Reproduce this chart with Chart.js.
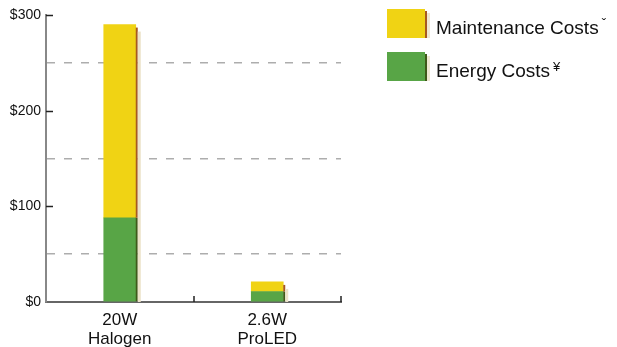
<!DOCTYPE html>
<html>
<head>
<meta charset="utf-8">
<script src="https://cdn.jsdelivr.net/npm/chart.js@4.4.0/dist/chart.umd.min.js"></script>
<style>
  body { margin: 0; background: #fff; font-family: "Liberation Sans", Arial, sans-serif; }
  #wrap { position: relative; width: 617px; height: 347px; }
  #legend { position: absolute; left: 387px; top: 9px; }
  .item { position: relative; height: 29px; margin-bottom: 14px; }
  .box { position: absolute; left: 0; top: 0; width: 38px; height: 29px; }
  .edge { position: absolute; left: 38px; top: 2px; width: 2px; height: 27px; }
  .shade { position: absolute; left: 40px; top: 4px; width: 3px; height: 25px; background: #efe8d2; }
  .text { position: absolute; left: 49px; top: 0px; font-size: 19px; line-height: 29px; color: #111; white-space: nowrap; }
  .text sup { font-size: 13px; vertical-align: 6px; margin-left: 3px; }
</style>
</head>
<body>
<div id="wrap">
  <canvas id="chart" width="617" height="347"></canvas>
  <div id="legend"></div>
</div>
<script>
const categories = [['20W', 'Halogen'], ['2.6W', 'ProLED']];
const energyCosts = [88, 11];
const maintenanceCosts = [202, 10];
const yTickValues = [0, 50, 100, 150, 200, 250, 300];

const legendItems = [
  { name: 'Maintenance Costs', mark: 'ˇ', color: '#f0d314', edge: '#a65a20' },
  { name: 'Energy Costs', mark: '¥', color: '#58a546', edge: '#3f5a19' }
];

Chart.defaults.font.family = '"Liberation Sans", Arial, sans-serif';
Chart.defaults.color = '#111';

// dark right edge + pale drop shadow on each bar
const sideShade = {
  id: 'sideShade',
  afterDatasetsDraw(chart) {
    const ctx = chart.ctx;
    const last = chart.data.datasets.length - 1;
    const zero = chart.scales.y.getPixelForValue(0);
    chart.data.datasets.forEach((ds, i) => {
      chart.getDatasetMeta(i).data.forEach(bar => {
        const { x, y, base, width } = bar.getProps(['x', 'y', 'base', 'width'], true);
        const right = x + width / 2;
        const top = i === last ? y + 3 : y;
        ctx.fillStyle = ds.edgeColor;
        ctx.fillRect(right, top, 2, base - top);
        if (i === last) {
          ctx.fillStyle = '#ebe2c8';
          ctx.fillRect(right + 2, y + 7, 3, zero - y - 7);
        }
      });
    });
  }
};

// small tick marks pointing into the plot
const innerTicks = {
  id: 'innerTicks',
  afterDraw(chart) {
    const ctx = chart.ctx;
    const { x: xs, y: ys } = chart.scales;
    ctx.save();
    ctx.strokeStyle = '#222';
    ctx.lineWidth = 1.5;
    ctx.beginPath();
    ys.ticks.forEach(t => {
      if (t.value > 0 && t.value % 100 === 0) {
        const py = Math.round(ys.getPixelForValue(t.value)) + 0.5;
        ctx.moveTo(xs.left, py);
        ctx.lineTo(xs.left + 7, py);
      }
    });
    for (let i = 1; i <= categories.length; i++) {
      const px = Math.round(xs.getPixelForValue(i - 0.5));
      ctx.moveTo(px, xs.top);
      ctx.lineTo(px, xs.top - 6);
    }
    ctx.stroke();
    ctx.restore();
  }
};

new Chart(document.getElementById('chart').getContext('2d'), {
  type: 'bar',
  data: {
    labels: categories,
    datasets: [
      {
        label: 'Energy Costs',
        data: energyCosts,
        backgroundColor: legendItems[1].color,
        edgeColor: legendItems[1].edge,
        barThickness: 32
      }, {
        label: 'Maintenance Costs',
        data: maintenanceCosts,
        backgroundColor: legendItems[0].color,
        edgeColor: legendItems[0].edge,
        barThickness: 32
      }
    ]
  },
  options: {
    responsive: false,
    animation: false,
    layout: { padding: { top: 15, right: 276, left: 0, bottom: 0 } },
    plugins: { legend: { display: false }, tooltip: { enabled: false } },
    scales: {
      x: {
        stacked: true,
        grid: { display: false },
        border: { display: true, color: '#666', width: 2 },
        ticks: { font: { size: 17, lineHeight: 1.12 }, padding: 1, color: '#111' },
        afterFit(scale) { scale.height = 45; }
      },
      y: {
        stacked: true,
        min: 0,
        max: 300,
        afterBuildTicks(scale) { scale.ticks = yTickValues.map(v => ({ value: v })); },
        ticks: {
          font: { size: 14 },
          padding: 5,
          color: '#111',
          callback: v => (v % 100 === 0 ? '$' + v : '')
        },
        grid: {
          drawTicks: false,
          lineWidth: 1.5,
          color: c => (c.tick && c.tick.value % 100 === 50 ? '#adadad' : 'rgba(0,0,0,0)')
        },
        border: { display: true, color: '#888', width: 2, dash: [8, 9] },
        afterFit(scale) { scale.width = 46; }
      }
    }
  },
  plugins: [sideShade, innerTicks]
});

const legend = document.getElementById('legend');
legendItems.forEach(item => {
  const div = document.createElement('div');
  div.className = 'item';
  div.innerHTML =
    '<div class="box" style="background:' + item.color + '"></div>' +
    '<div class="edge" style="background:' + item.edge + '"></div>' +
    '<div class="shade"></div>' +
    '<div class="text">' + item.name + '<sup>' + item.mark + '</sup></div>';
  legend.appendChild(div);
});
</script>
</body>
</html>
